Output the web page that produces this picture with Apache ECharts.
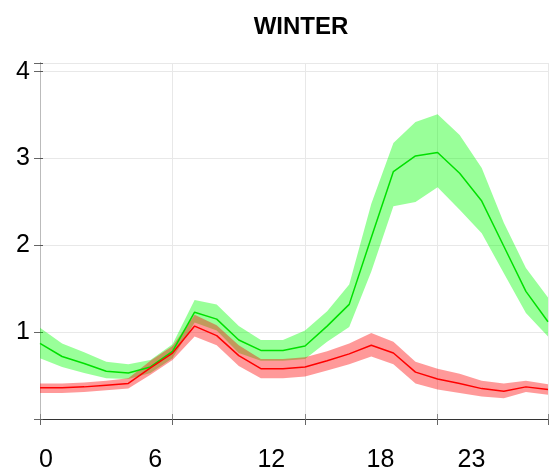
<!DOCTYPE html>
<html>
<head>
<meta charset="utf-8">
<script src="https://cdn.jsdelivr.net/npm/echarts@6/dist/echarts.min.js"></script>
<style>html,body{margin:0;padding:0;background:#fff}#c{width:549px;height:473px}</style>
</head>
<body>
<div id="c"></div>
<script>
const hours = [0,1,2,3,4,5,6,7,8,9,10,11,12,13,14,15,16,17,18,19,20,21,22,23];
const tickLabels = [0,6,12,18,23];
const greenMean  = [0.87,0.72,0.64,0.55,0.53,0.60,0.78,1.23,1.15,0.91,0.79,0.79,0.84,1.07,1.32,2.09,2.85,3.03,3.07,2.83,2.51,1.99,1.47,1.12];
const greenUpper = [1.05,0.87,0.77,0.66,0.63,0.68,0.86,1.37,1.32,1.07,0.91,0.91,1.02,1.24,1.55,2.48,3.18,3.42,3.51,3.27,2.89,2.26,1.74,1.40];
const greenLower = [0.70,0.60,0.53,0.47,0.46,0.53,0.70,1.11,1.02,0.76,0.67,0.67,0.69,0.89,1.06,1.70,2.45,2.50,2.67,2.41,2.14,1.68,1.22,0.95];
const redMean  = [0.36,0.36,0.37,0.39,0.41,0.59,0.76,1.07,0.96,0.73,0.58,0.58,0.60,0.67,0.75,0.85,0.76,0.54,0.46,0.41,0.35,0.32,0.37,0.34];
const redUpper = [0.41,0.41,0.42,0.44,0.47,0.67,0.84,1.20,1.08,0.85,0.69,0.69,0.71,0.78,0.87,0.99,0.89,0.66,0.58,0.52,0.44,0.41,0.44,0.40];
const redLower = [0.30,0.30,0.31,0.33,0.35,0.51,0.68,0.95,0.85,0.61,0.47,0.47,0.49,0.56,0.63,0.72,0.63,0.41,0.34,0.30,0.26,0.24,0.31,0.28];

const pts = arr => hours.map((h,i)=>[h,arr[i]]);
const FONT = '"Liberation Sans Narrow", "Liberation Sans", Arial, sans-serif';

function band(upper, lower, color){
  return {
    type:'custom', xAxisIndex:0, yAxisIndex:0, silent:true,
    data: hours.map((h,i)=>[h, upper[i], lower[i]]),
    encode:{x:0, y:[1,2]},
    renderItem: function(params, api){
      if (params.dataIndex !== 0) return null;
      const top = hours.map((h,i)=>api.coord([h, upper[i]]));
      const bot = hours.map((h,i)=>api.coord([h, lower[i]])).reverse();
      return {type:'polygon', shape:{points: top.concat(bot)}, style:{fill: color, stroke:'none'}};
    }
  };
}

const chart = echarts.init(document.getElementById('c'), null, {renderer:'canvas'});
chart.setOption({
  animation:false,
  backgroundColor:'#fff',
  title:{text:'WINTER', left:296, top:10, textAlign:'center',
    textStyle:{fontFamily:FONT, fontWeight:'bold', fontSize:24, color:'#000'}},
  grid:[
    {left:40, top:63, width:508, height:356, show:false},
    {left:39, top:63, width:418.6, height:356, show:false}
  ],
  xAxis:[
    {gridIndex:0, type:'value', min:0, max:23, interval:6, position:'bottom',
      axisLine:{lineStyle:{color:'#666', width:1}},
      axisTick:{show:true, length:6, lineStyle:{color:'#666'}},
      axisLabel:{show:false},
      splitLine:{show:true, lineStyle:{color:'#e8e8e8', width:1}}},
    {gridIndex:0, type:'value', min:0, max:23, interval:6, position:'top',
      axisLine:{show:true, lineStyle:{color:'#333', width:1}},
      axisTick:{show:true, length:5, lineStyle:{color:'#888'}},
      axisLabel:{show:false}, splitLine:{show:false}},
    {gridIndex:1, type:'value', min:0, max:23, interval:6, position:'bottom',
      axisLine:{show:false}, axisTick:{show:false}, splitLine:{show:false},
      axisLabel:{show:true, align:'left', margin:31, fontFamily:FONT, fontSize:25, color:'#000',
        formatter: v => tickLabels.includes(v) ? String(v) : ''}}
  ],
  yAxis:[
    {gridIndex:0, type:'value', min:0, max:4.1, interval:1, position:'left',
      axisLine:{show:true, lineStyle:{color:'#666', width:1}},
      axisTick:{show:true, length:6, lineStyle:{color:'#666'}},
      axisLabel:{show:true, margin:10, fontFamily:FONT, fontSize:25, color:'#000',
        formatter: v => (v>=1 && Number.isInteger(v)) ? String(v) : ''},
      splitLine:{show:true, lineStyle:{color:'#e8e8e8', width:1}}},
    {gridIndex:0, type:'value', min:0, max:4.1, interval:1, position:'right',
      axisLine:{show:true, lineStyle:{color:'#bbb', width:1}},
      axisTick:{show:true, length:3, lineStyle:{color:'#555'}},
      axisLabel:{show:false}, splitLine:{show:false}},
    {gridIndex:1, type:'value', min:0, max:4.1, show:false}
  ],
  series:[
    band(greenUpper, greenLower, 'rgba(0,255,0,0.4)'),
    band(redUpper, redLower, 'rgba(255,0,0,0.4)'),
    {type:'line', name:'green', xAxisIndex:0, yAxisIndex:0, data:pts(greenMean),
      symbol:'none', lineStyle:{color:'#00e000', width:1.5}},
    {type:'line', name:'red', xAxisIndex:0, yAxisIndex:0, data:pts(redMean),
      symbol:'none', lineStyle:{color:'#ff0000', width:1.5}}
  ]
});
</script>
</body>
</html>
